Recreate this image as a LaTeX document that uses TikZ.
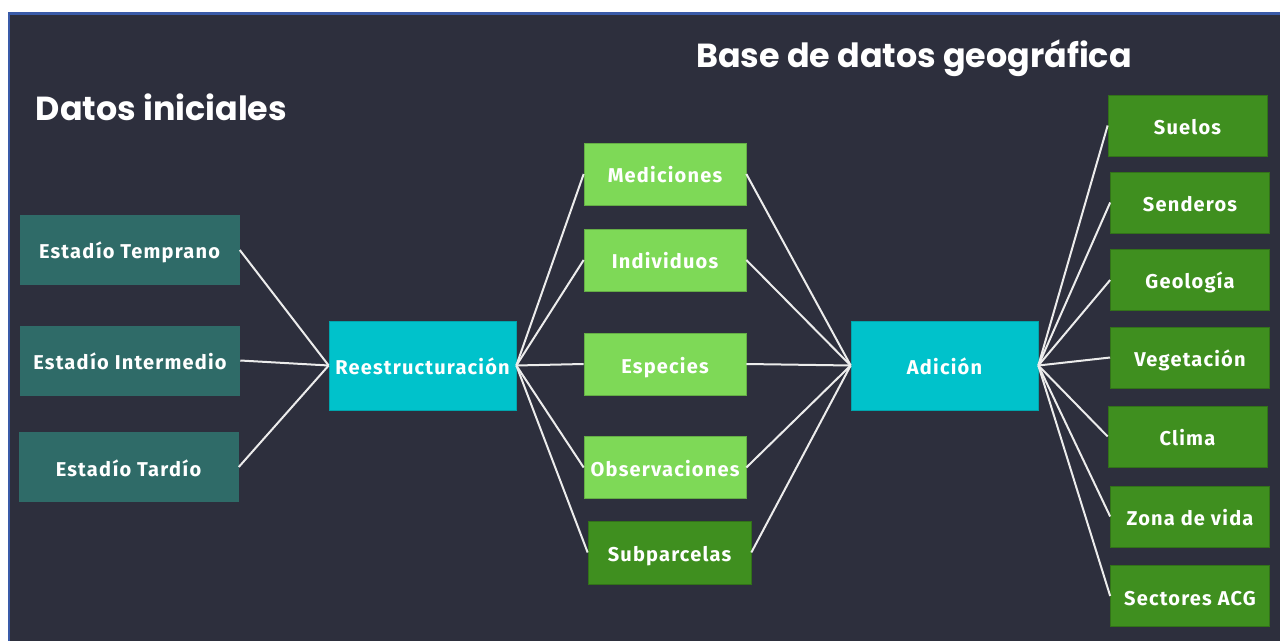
\documentclass[tikz,border=0pt]{standalone}
\usepackage{fontspec}
\newfontfamily\titlefont{Poppins}
\newfontfamily\labelfont[LetterSpace=6]{Fira Sans}
\definecolor{canvas}{HTML}{2D2F3D}
\definecolor{frame}{HTML}{3A5BA8}
\definecolor{tealfill}{HTML}{2F6B68}
\definecolor{cyanfill}{HTML}{00C2CB}
\definecolor{limefill}{HTML}{7ED957}
\definecolor{forestfill}{HTML}{3F8F1F}
\definecolor{wire}{HTML}{ECECEC}
\tikzset{
  x=0.75pt, y=-0.75pt,
  sz/.style 2 args={minimum width=#1*0.75pt, minimum height=#2*0.75pt},
  box/.style={rectangle, inner sep=0pt, text=white, text height=13.5pt, text depth=0pt,
    font=\labelfont\bfseries\fontsize{15}{18}\selectfont},
  tealbox/.style={box, fill=tealfill, sz={220}{70}},
  hubbox/.style={box, fill=cyanfill, draw=cyanfill!85!black, line width=0.5pt, sz={187}{89}},
  limebox/.style={box, fill=limefill, draw=limefill!80!black, line width=0.5pt, sz={162}{62}},
  forestbox/.style={box, fill=forestfill, draw=forestfill!80!black, line width=0.5pt, sz={159}{61}},
  heading/.style={text=white, font=\titlefont\bfseries\fontsize{25}{29}\selectfont},
  wire/.style={draw=wire, line width=1.5pt},
}
\begin{document}
\begin{tikzpicture}
% page, frame and canvas
\useasboundingbox (0,0) rectangle (1280,641);
\fill[white] (0,0) rectangle (1280,641);
\fill[frame] (8,12) rectangle (1280,641);
\fill[canvas] (10,15) rectangle (1280,641);

% headings
\node[heading] (hleft) at (161.5,107) {Datos iniciales};
\node[heading] (hright) at (914,58) {Base de datos geográfica};

% initial stages
\node[tealbox] (temprano) at (129.5,250) {Estadío Temprano};
\node[tealbox] (intermedio) at (130,360.5) {Estadío Intermedio};
\node[tealbox] (tardio) at (128.5,467) {Estadío Tardío};

% hubs
\node[hubbox] (reest) at (422.5,365.5) {Reestructuración};
\node[hubbox] (adicion) at (944.5,365.5) {Adición};

% tables
\node[limebox] (mediciones) at (665,174) {Mediciones};
\node[limebox] (individuos) at (665,260) {Individuos};
\node[limebox] (especies) at (665,364) {Especies};
\node[limebox] (observaciones) at (665,467.5) {Observaciones};
\node[forestbox, sz={163}{63}] (subparcelas) at (669.5,552.5) {Subparcelas};

% geographic layers
\node[forestbox] (suelos) at (1187.5,125.5) {Suelos};
\node[forestbox] (senderos) at (1190,202.5) {Senderos};
\node[forestbox] (geologia) at (1190,280) {Geología};
\node[forestbox] (vegetacion) at (1190,357.5) {Vegetación};
\node[forestbox] (clima) at (1187.5,436.5) {Clima};
\node[forestbox] (zona) at (1190,516.5) {Zona de vida};
\node[forestbox] (sectores) at (1190,596) {Sectores ACG};

% connectors
\foreach \n in {temprano,intermedio,tardio}
  \draw[wire] (\n.east) -- (reest.west);
\foreach \n in {mediciones,individuos,especies,observaciones,subparcelas}{
  \draw[wire] (reest.east) -- (\n.west);
  \draw[wire] (\n.east) -- (adicion.west);
}
\foreach \n in {suelos,senderos,geologia,vegetacion,clima,zona,sectores}
  \draw[wire] (adicion.east) -- (\n.west);
\end{tikzpicture}
\end{document}
